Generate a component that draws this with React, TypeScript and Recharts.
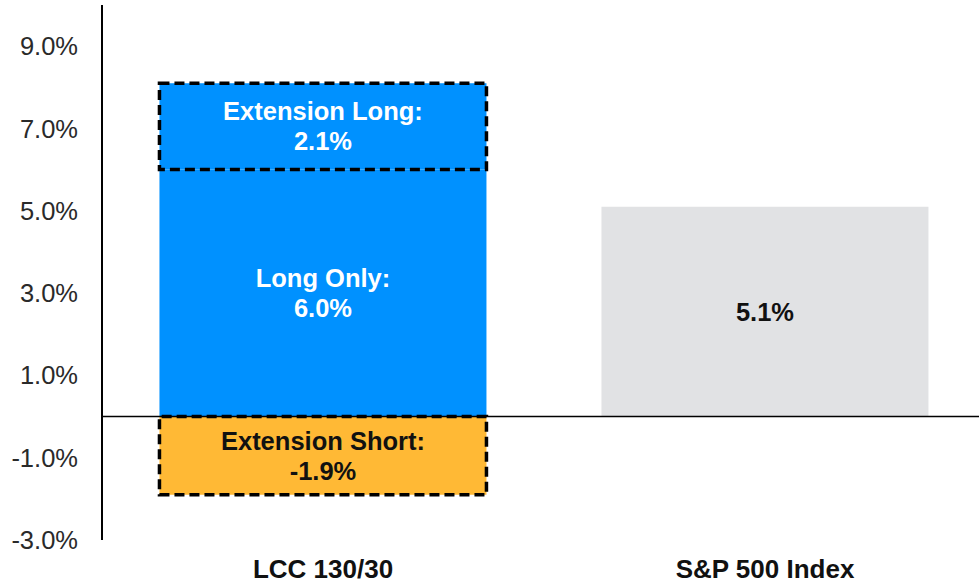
import { BarChart, Bar, XAxis, YAxis, ReferenceLine, LabelList } from 'recharts'

const categories = ['LCC 130/30', 'S&P 500 Index']
const longOnly = [6.0, null]
const extensionLong = [2.1, null]
const extensionShort = [-1.9, null]
const indexReturn = [null, 5.1]
const yTicks = [-3, -1, 1, 3, 5, 7, 9]

const data = categories.map((name, i) => ({
  name,
  longOnly: longOnly[i],
  extensionLong: extensionLong[i],
  extensionShort: extensionShort[i],
  indexReturn: indexReturn[i],
}))

const FONT = '"Liberation Sans", Arial, sans-serif'
const pct = (v: number) => `${v.toFixed(1)}%`

function segmentLabel(title: string | null, values: (number | null)[], fill: string) {
  return (props: any) => {
    const { x, y, width, height, index, value } = props
    let v: number | null = index != null ? values[index] : null
    if (v == null && typeof value === 'number') v = value
    if (v == null || !height) return null
    const cx = Number(x) + Number(width) / 2
    const cy = Number(y) + Number(height) / 2
    const common = {
      x: cx,
      textAnchor: 'middle' as const,
      dominantBaseline: 'central' as const,
      fill,
      fontFamily: FONT,
      fontSize: 25.5,
      fontWeight: 700,
    }
    if (!title) {
      return (
        <text {...common} y={cy}>
          {pct(v)}
        </text>
      )
    }
    return (
      <g>
        <text {...common} y={cy - 15}>
          {title}
        </text>
        <text {...common} y={cy + 15}>
          {pct(v)}
        </text>
      </g>
    )
  }
}

export default function App() {
  return (
    <div
      style={{
        position: 'absolute',
        left: 0,
        top: 0,
        width: 979,
        height: 584,
        overflow: 'hidden',
        background: '#fff',
      }}
    >
      <BarChart
        width={990}
        height={584}
        data={data}
        stackOffset="sign"
        barCategoryGap="13%"
        margin={{ top: 5, right: 4, bottom: 0, left: 0 }}
      >
        <XAxis
          dataKey="name"
          axisLine={false}
          tickLine={false}
          height={44}
          tickMargin={14}
          tick={{ fill: '#111', fontSize: 26, fontWeight: 700, fontFamily: FONT }}
        />
        <YAxis
          type="number"
          domain={[-3, 10]}
          ticks={yTicks}
          interval={0}
          width={102}
          tickLine={false}
          tickMargin={18}
          tickFormatter={pct}
          axisLine={{ stroke: '#000', strokeWidth: 2 }}
          tick={{ fill: '#2a2a2a', fontSize: 25.5, fontFamily: FONT }}
        />
        <Bar dataKey="longOnly" stackId="a" fill="#0091FF" isAnimationActive={false}>
          <LabelList content={segmentLabel('Long Only:', longOnly, '#fff')} />
        </Bar>
        <Bar
          dataKey="extensionLong"
          stackId="a"
          fill="#0091FF"
          stroke="#000"
          strokeWidth={3.5}
          strokeDasharray="10 5"
          isAnimationActive={false}
        >
          <LabelList content={segmentLabel('Extension Long:', extensionLong, '#fff')} />
        </Bar>
        <Bar
          dataKey="extensionShort"
          stackId="a"
          fill="#FFB935"
          stroke="#000"
          strokeWidth={3.5}
          strokeDasharray="10 5"
          isAnimationActive={false}
        >
          <LabelList content={segmentLabel('Extension Short:', extensionShort, '#111')} />
        </Bar>
        <Bar dataKey="indexReturn" stackId="a" fill="#E1E2E4" isAnimationActive={false}>
          <LabelList content={segmentLabel(null, indexReturn, '#111')} />
        </Bar>
        <ReferenceLine y={0} stroke="#000" strokeWidth={1.5} />
      </BarChart>
    </div>
  )
}
